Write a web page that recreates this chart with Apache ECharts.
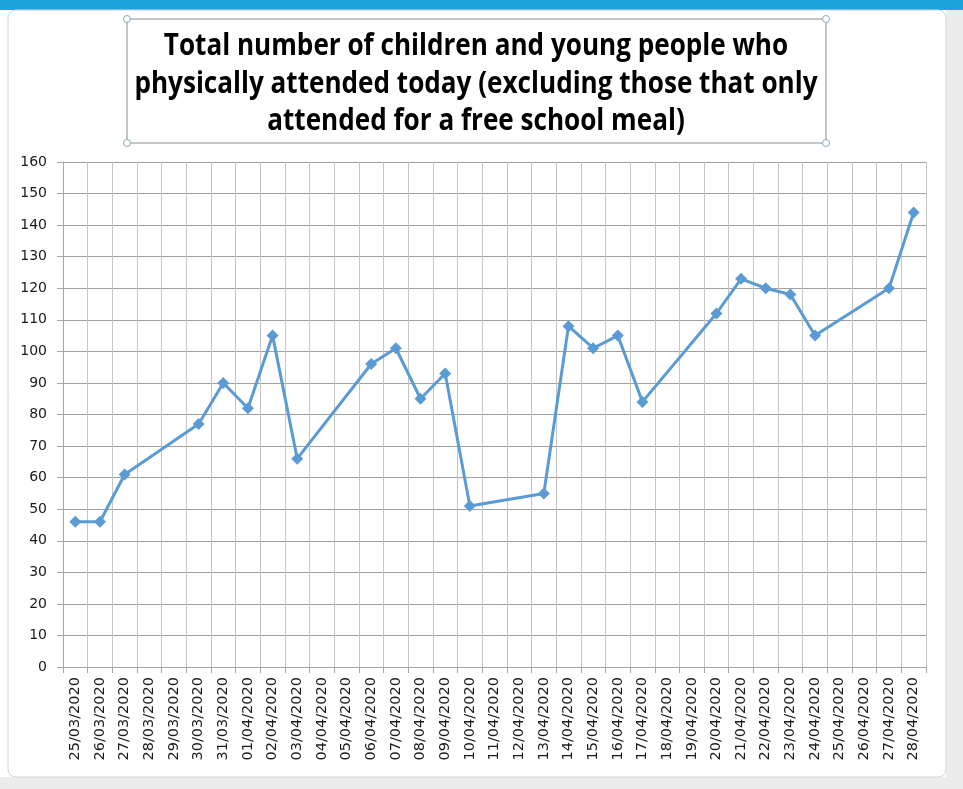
<!DOCTYPE html>
<html>
<head>
<meta charset="utf-8">
<script src="https://cdn.jsdelivr.net/npm/echarts@6/dist/echarts.min.js"></script>
<style>
html,body{margin:0;padding:0;background:#fff;}
#chart{width:963px;height:789px;}
</style>
</head>
<body>
<div id="chart"></div>
<script>
const categories = [
  '25/03/2020','26/03/2020','27/03/2020','28/03/2020','29/03/2020','30/03/2020','31/03/2020',
  '01/04/2020','02/04/2020','03/04/2020','04/04/2020','05/04/2020','06/04/2020','07/04/2020',
  '08/04/2020','09/04/2020','10/04/2020','11/04/2020','12/04/2020','13/04/2020','14/04/2020',
  '15/04/2020','16/04/2020','17/04/2020','18/04/2020','19/04/2020','20/04/2020','21/04/2020',
  '22/04/2020','23/04/2020','24/04/2020','25/04/2020','26/04/2020','27/04/2020','28/04/2020'
];
const attendance = [
  46, 46, 61, null, null, 77, 90,
  82, 105, 66, null, null, 96, 101,
  85, 93, 51, null, null, 55, 108,
  101, 105, 84, null, null, 112, 123,
  120, 118, 105, null, null, 120, 144
];
const yMin = 0, yMax = 160, yStep = 10;
const titleLines = [
  'Total number of children and young people who',
  'physically attended today (excluding those that only',
  'attended for a free school meal)'
];

const chart = echarts.init(document.getElementById('chart'), null, {renderer: 'canvas'});
const handle = (x, y) => ({type: 'circle', shape: {cx: x, cy: y, r: 3.5}, style: {fill: '#fff', stroke: '#8aa8c8', lineWidth: 1}, z: 10});
const titleText = (txt, y) => ({
  type: 'text', x: 476, y: y, scaleX: 0.9, scaleY: 1.04, originX: 0, originY: 0, z: 6,
  style: {
    text: txt, textAlign: 'center', textVerticalAlign: 'middle',
    font: 'bold 29px "Open Sans", sans-serif', fill: '#000'
  }
});
chart.setOption({
  animation: false,
  backgroundColor: '#ffffff',
  graphic: [
    {type: 'rect', shape: {x: 0, y: 0, width: 963, height: 10}, style: {fill: '#1fa3dc'}, z: -5},
    {type: 'rect', shape: {x: 946, y: 10, width: 17, height: 779}, style: {fill: '#ececec'}, z: -5},
    {type: 'rect', shape: {x: 0, y: 777, width: 963, height: 12}, style: {fill: '#ececec'}, z: -5},
    {type: 'rect', shape: {x: 8, y: 10, width: 938, height: 767, r: 8}, style: {fill: '#fff', stroke: '#d4d4d4', lineWidth: 1}, z: -4},
    {type: 'rect', shape: {x: 127, y: 19, width: 699, height: 124}, style: {fill: 'none', stroke: '#8c8c8c', lineWidth: 1}, z: 5},
    handle(127, 19), handle(826, 19), handle(127, 143), handle(826, 143),
    titleText(titleLines[0], 46),
    titleText(titleLines[1], 84),
    titleText(titleLines[2], 121)
  ],
  grid: {left: 63, right: 37, top: 162, bottom: 122, containLabel: false},
  xAxis: {
    type: 'category',
    data: categories,
    boundaryGap: true,
    axisLine: {show: true, lineStyle: {color: '#a6a6a6', width: 1}},
    axisTick: {show: true, length: 6, interval: 0, lineStyle: {color: '#a6a6a6'}},
    splitLine: {show: true, interval: 0, lineStyle: {color: '#c4c4c4', width: 1}},
    axisLabel: {
      interval: 0, rotate: 90, margin: 10,
      fontFamily: '"DejaVu Sans", sans-serif', fontSize: 14.5, color: '#1a1a1a'
    }
  },
  yAxis: {
    type: 'value',
    min: yMin, max: yMax, interval: yStep,
    axisLine: {show: true, lineStyle: {color: '#a6a6a6', width: 1}},
    axisTick: {show: true, length: 6, lineStyle: {color: '#a6a6a6'}},
    splitLine: {show: true, lineStyle: {color: '#a0a0a0', width: 1}},
    axisLabel: {margin: 16, fontFamily: '"DejaVu Sans", sans-serif', fontSize: 14, color: '#1a1a1a'}
  },
  series: [{
    type: 'line',
    data: attendance,
    connectNulls: true,
    symbol: 'diamond',
    symbolSize: 12,
    lineStyle: {color: '#5b9bd5', width: 3},
    itemStyle: {color: '#5b9bd5'}
  }]
});
</script>
</body>
</html>
